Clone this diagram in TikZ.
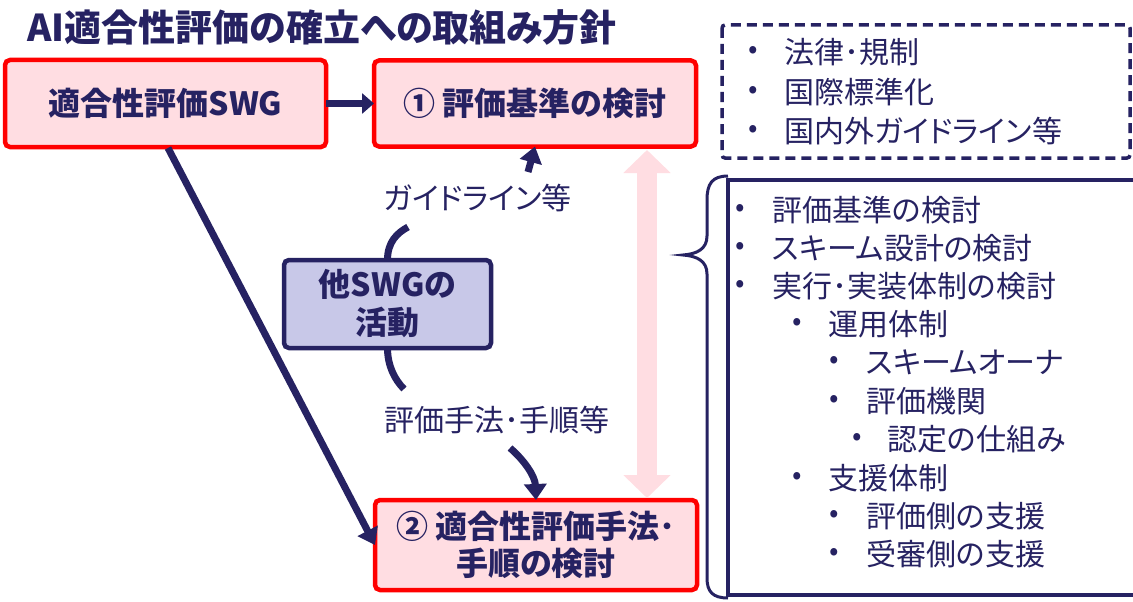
\documentclass[tikz,border=0pt]{standalone}
\usepackage{fontspec}
\setmainfont{Noto Sans CJK JP}[RawFeature=+palt]
\usetikzlibrary{arrows.meta}
\definecolor{navy}{HTML}{262262}
\definecolor{boxred}{HTML}{FF0000}
\definecolor{boxpink}{HTML}{FFDDE2}
\definecolor{lav}{HTML}{C8C8E8}
\definecolor{pinkarrow}{HTML}{FFDDE2}
\newcommand\litem[5]{\node[bul] (#1b) at (#2,#4) {•}; \node[lt] (#1) at (#3,#4) {#5};}
\begin{document}
\begin{tikzpicture}[x=1pt,y=-1pt,
  redbox/.style={draw=boxred, fill=boxpink, line width=4.5pt, rounded corners=5pt, inner sep=0, outer sep=0, text=navy, align=center, font=\fontsize{32}{37}\selectfont\bfseries},
  lavbox/.style={draw=navy, fill=lav, line width=4.5pt, rounded corners=5pt, inner sep=0, outer sep=0, text=navy, align=center, font=\fontsize{32}{38}\selectfont\bfseries},
  arr/.style={draw=navy, line width=7pt, -{Triangle[length=16pt,width=22pt]}},
  arc/.style={draw=navy, line width=7pt},
  bul/.style={font=\fontsize{28}{34}\selectfont, text=navy, inner sep=0, anchor=center},
  lt/.style={font=\fontsize{30}{34}\selectfont, text=navy, inner sep=0, anchor=west},
  lbl/.style={font=\fontsize{30}{34}\selectfont, text=navy, inner sep=0}]
\clip (0,0) rectangle (1133,602);
\fill[white] (0,0) rectangle (1133,602);

% title
\node[anchor=west, inner sep=0, text=navy, font=\fontsize{37}{40}\selectfont\bfseries] (title) at (27,27) {AI適合性評価の確立への取組み方針};

% boxes
\node[redbox, minimum width=321pt, minimum height=87pt] (swg) at (165.5,103.5) {適合性評価SWG};
\node[redbox, minimum width=322pt, minimum height=86pt] (b1) at (535,103.5) {① 評価基準の検討};
\node[redbox, minimum width=322pt, minimum height=90pt] (b2) at (536,545) {② 適合性評価手法･\\手順の検討};
\node[lavbox, minimum width=207pt, minimum height=88pt] (o) at (387.5,304) {他SWGの\\活動};

% pink double arrow
\coordinate (pa) at (647,150);
\coordinate (pb) at (647,498);
\draw[pinkarrow, line width=20pt, {Triangle[length=23pt,width=46pt]}-{Triangle[length=23pt,width=46pt]}] (pa) -- (pb);

% arrows
\draw[arr, -{Triangle[length=12pt,width=20pt]}] (swg.east) -- (b1.west);
\coordinate (d1) at (168,148);
\draw[arr] (d1) -- (b2.west);

% labels
\node[lbl] (lg) at (478,198) {ガイドライン等};
\node[lbl] (lh) at (497,420) {評価手法･手順等};

% curved connectors
\coordinate (ta) at (408,227);
\draw[arc] (o.north) .. controls (387.5,242) and (397,233) .. (ta);
\coordinate (ga) at (528,172);
\draw[arr] (ga) -- (b1.south);
\coordinate (tb) at (404,389);
\draw[arc] (o.south) .. controls (387.5,366) and (395,380) .. (tb);
\coordinate (gb) at (510,448);
\draw[arr] (gb) .. controls (524,460) and (535,476) .. (b2.north);

% dashed box
\draw[navy, line width=3.5pt, dash pattern=on 10pt off 6pt, rounded corners=3pt] (722,25) rectangle (1130,158);
\litem{da}{753}{784}{52}{法律･規制}
\litem{db}{753}{784}{92}{国際標準化}
\litem{dc}{753}{784}{131}{国内外ガイドライン等}

% list box and brace
\draw[navy, line width=3.5pt] (1150,180) -- (728,180) -- (728,595) -- (1150,595);
\draw[navy, line width=3pt] (728,176) .. controls (712,176) and (707,184) .. (707,200) -- (707,236) .. controls (707,249) and (697,254) .. (683,255) .. controls (697,256) and (707,261) .. (707,274) -- (707,578) .. controls (707,592) and (713,598) .. (728,598);

\litem{la}{740}{772}{210}{評価基準の検討}
\litem{lb}{740}{772}{248}{スキーム設計の検討}
\litem{lc}{740}{772}{286}{実行･実装体制の検討}
\litem{ld}{797}{828}{324}{運用体制}
\litem{le}{834}{866}{362}{スキームオーナ}
\litem{lf}{834}{866}{401}{評価機関}
\litem{lg2}{857}{887}{439}{認定の仕組み}
\litem{lh2}{797}{828}{478}{支援体制}
\litem{li}{834}{866}{516}{評価側の支援}
\litem{lj}{834}{866}{554}{受審側の支援}
\end{tikzpicture}
\end{document}
